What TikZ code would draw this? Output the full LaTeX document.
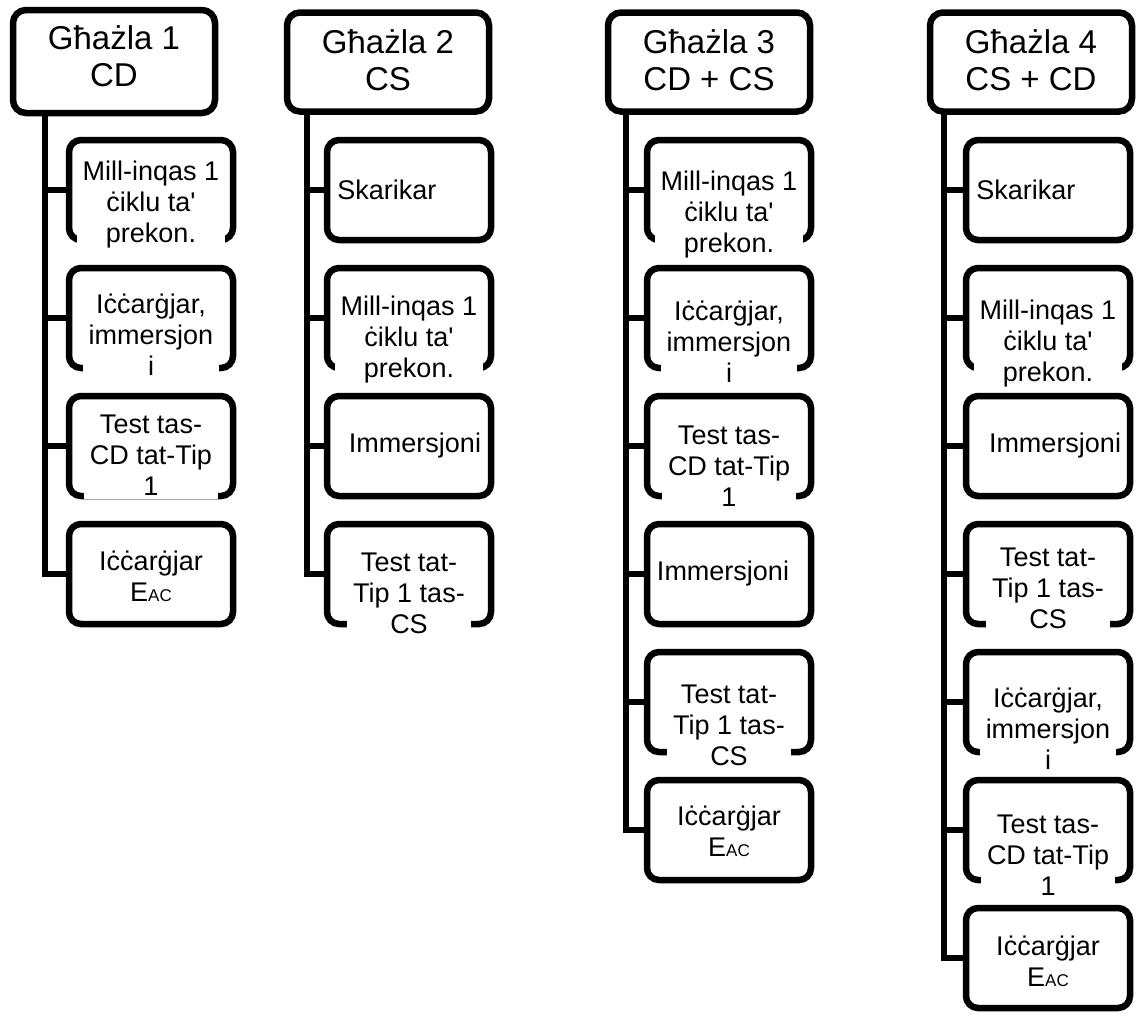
\documentclass[tikz,border=0pt]{standalone}
\usepackage{fontspec}
\setmainfont{Liberation Sans}
\usetikzlibrary{positioning}
\newcommand{\eac}{E{\fontsize{17pt}{17pt}\selectfont AC}}
\newcommand{\tq}{\textquotesingle}

\begin{document}
\begin{tikzpicture}[
    x=1pt, y=-1pt,
    line width=6.5pt,
    head/.style={draw, rounded corners=13pt, minimum width=202pt,
                 minimum height=99pt, outer sep=0pt, inner sep=0pt},
    stepbox/.style={draw, rounded corners=12pt, minimum width=164pt,
                    minimum height=100pt, outer sep=0pt, inner sep=0pt},
    headtext/.style={font=\fontsize{33pt}{37pt}\selectfont, align=center, inner sep=3pt},
    steptext/.style={font=\fontsize{27pt}{31pt}\selectfont, align=center, fill=white,
                     inner xsep=6pt, inner ysep=3pt},
    branch/.style={line width=6pt},
  ]
  \useasboundingbox (0,0) rectangle (1141,1021);

  \coordinate (r1) at (45,0);
  \coordinate (r2) at (307,0);
  \coordinate (r3) at (626,0);
  \coordinate (r4) at (944,0);

  % Ghazla 1
  \node[head, minimum height=103pt] (h1) at (114,61.5) {};
  \node[headtext, below=9pt of h1.north] (ht1) {Għażla 1\\CD};
  \node[stepbox] (c1a) at (151,190) {};
  \node[stepbox] (c1b) at (151,318) {};
  \node[stepbox] (c1c) at (151,446) {};
  \node[stepbox] (c1d) at (151,574) {};
  \node[steptext, below=15pt of c1a.north] (t1a) {Mill-inqas 1\\ċiklu ta\tq\\prekon.};
  \node[steptext, below=20pt of c1b.north] (t1b) {Iċċarġjar,\\immersjon\\i};
  \node[steptext, below=13pt of c1c.north] (t1c) {Test tas-\\CD tat-Tip\\1};
  \node[steptext, below=21pt of c1d.north] (t1d) {Iċċarġjar\\\eac};

  % Ghazla 2
  \node[head] (h2) at (388,62) {};
  \node[headtext, below=11pt of h2.north] (ht2) {Għażla 2\\CS};
  \node[stepbox] (c2a) at (409,190) {};
  \node[stepbox] (c2b) at (409,318) {};
  \node[stepbox] (c2c) at (409,446) {};
  \node[stepbox] (c2d) at (409,574) {};
  \node[steptext, right=5pt of c2a.west, inner xsep=2pt] (t2a) {Skarikar};
  \node[steptext, below=22pt of c2b.north] (t2b) {Mill-inqas 1\\ċiklu ta\tq\\prekon.};
  \node[steptext] (t2c) at ([xshift=6pt]c2c.center) {Immersjoni};
  \node[steptext, below=23pt of c2d.north] (t2d) {Test tat-\\Tip 1 tas-\\CS};

  % Ghazla 3
  \node[head] (h3) at (709,62) {};
  \node[headtext, below=11pt of h3.north] (ht3) {Għażla 3\\CD + CS};
  \node[stepbox] (c3a) at (729,190) {};
  \node[stepbox] (c3b) at (729,318) {};
  \node[stepbox] (c3c) at (729,446) {};
  \node[stepbox] (c3d) at (729,574) {};
  \node[stepbox] (c3e) at (729,702) {};
  \node[stepbox] (c3f) at (729,830) {};
  \node[steptext, below=25pt of c3a.north] (t3a) {Mill-inqas 1\\ċiklu ta\tq\\prekon.};
  \node[steptext, below=27pt of c3b.north] (t3b) {Iċċarġjar,\\immersjon\\i};
  \node[steptext, below=24pt of c3c.north] (t3c) {Test tas-\\CD tat-Tip\\1};
  \node[steptext, inner xsep=3pt] (t3d) at ([xshift=-6pt]c3d.center) {Immersjoni};
  \node[steptext, below=27pt of c3e.north] (t3e) {Test tat-\\Tip 1 tas-\\CS};
  \node[steptext, below=20pt of c3f.north] (t3f) {Iċċarġjar\\\eac};

  % Ghazla 4
  \node[head] (h4) at (1031,62) {};
  \node[headtext, below=11pt of h4.north] (ht4) {Għażla 4\\CS + CD};
  \node[stepbox] (c4a) at (1048,190) {};
  \node[stepbox] (c4b) at (1048,318) {};
  \node[stepbox] (c4c) at (1048,446) {};
  \node[stepbox] (c4d) at (1048,574) {};
  \node[stepbox] (c4e) at (1048,702) {};
  \node[stepbox] (c4f) at (1048,830) {};
  \node[stepbox] (c4g) at (1048,958) {};
  \node[steptext, right=5pt of c4a.west, inner xsep=2pt] (t4a) {Skarikar};
  \node[steptext, below=26pt of c4b.north] (t4b) {Mill-inqas 1\\ċiklu ta\tq\\prekon.};
  \node[steptext, inner xsep=3pt] (t4c) at ([xshift=7pt]c4c.center) {Immersjoni};
  \node[steptext, below=18pt of c4d.north] (t4d) {Test tat-\\Tip 1 tas-\\CS};
  \node[steptext, below=30pt of c4e.north] (t4e) {Iċċarġjar,\\immersjon\\i};
  \node[steptext, below=29pt of c4f.north] (t4f) {Test tas-\\CD tat-Tip\\1};
  \node[steptext, below=22pt of c4g.north] (t4g) {Iċċarġjar\\\eac};

  \foreach \n in {c1a,c1b,c1c,c1d}
    \draw[branch] (h1.south -| r1) |- (\n.west);
  \foreach \n in {c2a,c2b,c2c,c2d}
    \draw[branch] (h2.south -| r2) |- (\n.west);
  \foreach \n in {c3a,c3b,c3c,c3d,c3e,c3f}
    \draw[branch] (h3.south -| r3) |- (\n.west);
  \foreach \n in {c4a,c4b,c4c,c4d,c4e,c4f,c4g}
    \draw[branch] (h4.south -| r4) |- (\n.west);
\end{tikzpicture}
\end{document}
